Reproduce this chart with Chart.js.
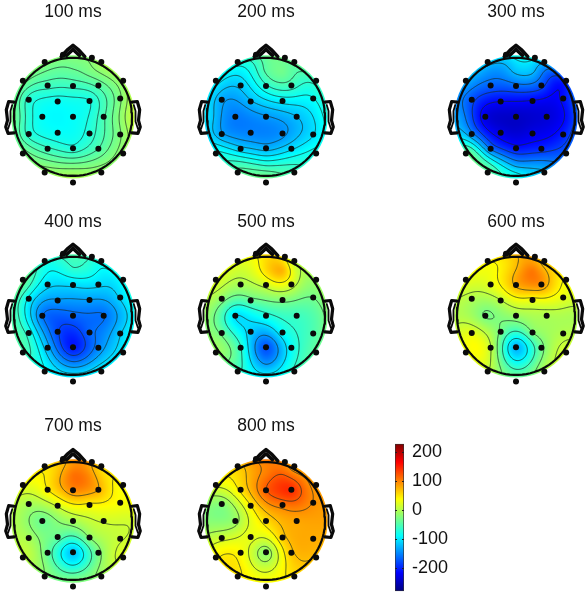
<!DOCTYPE html>
<html>
<head>
<meta charset="utf-8">
<title>ERP scalp maps</title>
<script src="https://cdn.jsdelivr.net/npm/chart.js@4"></script>
<style>
html,body{margin:0;padding:0;background:#fff;overflow:hidden}
#stage{position:relative;width:588px;height:610px;filter:blur(.35px)}
canvas{position:absolute;display:block}
</style>
</head>
<body>
<div id="stage"></div>
<script>
// ---- data ----------------------------------------------------------------
const panelTitles = ['100 ms','200 ms','300 ms','400 ms','500 ms','600 ms','700 ms','800 ms'];
const colorTicks = [200,100,0,-100,-200];
const colorMin = -280, colorMax = 230;

// Sites in head coordinates: first 28 are the drawn electrodes, the rest are extra read-off sites.
const siteX = [-.48,.48,-.17,.32, -.85,-.43,0,.43,.85, -.75,-.26,.28,.80, -.52,0,.52, -.75,-.26,.28,.80, -.85,-.43,0,.43,.85, -.48,.48,0, 0,.28,-1,1,0];
const siteY = [.93,.93,1.05,1.0, .61,.53,.52,.53,.61, .29,.26,.27,.31, 0,0,0, -.29,-.27,-.28,-.30, -.62,-.54,-.53,-.54,-.62, -.94,-.94,-1.11, .8,.78,0,0,-.82];
const electrodeCount = 28;

const v100 = [-20,0,-20,-20, -28,-55,-58,-45,-8, -72,-85,-80,-25, -85,-85,-50, -72,-85,-70,-25, -25,-60,-75,-50,-12, -12,-12,5, -35,-25,-30,10,-30];
const v200 = [-75,-40,-50,-35, -90,-115,-70,-55,-60, -135,-120,-95,-85, -155,-140,-120, -140,-150,-145,-105, -75,-115,-130,-105,-75, -40,-55,-25, -40,-25,-100,-80,-70];
const v300 = [-115,-130,-100,-90, -125,-165,-165,-170,-200, -180,-215,-220,-205, -235,-245,-235, -155,-225,-225,-200, -20,-170,-210,-200,-170, -35,-120,-70, -110,-110,-130,-185,-140];
const v400 = [-75,-80,-55,-65, -25,-105,-110,-105,-85, -95,-135,-135,-105, -165,-165,-165, -70,-180,-160,-110, -50,-125,-215,-150,-95, -85,-90,-85, -60,-70,-50,-100,-150];
const v500 = [25,0,40,40, 25,-5,10,20,-10, -15,-35,-25,-30, -115,-75,-60, -35,-110,-80,-50, -10,-60,-190,-85,-40, -60,-60,-80, 60,95,-15,-30,-145];
const v600 = [40,55,60,80, 30,30,85,100,35, 0,5,25,30, -35,-10,-5, 30,-25,-15,0, 30,15,-145,-35,20, 10,0,-30, 70,115,0,-5,-80];
const v700 = [50,50,70,80, 30,50,100,85,35, -5,15,35,40, -40,-5,15, -5,-30,-10,10, 10,-40,-135,-30,25, -20,-10,-15, 115,100,0,15,-70];
const v800 = [60,75,100,100, 30,55,125,155,85, -25,45,100,95, -15,55,80, 15,35,70,80, 45,40,-30,70,70, 50,55,40, 100,125,-20,85,15];
const panelValues = [v100,v200,v300,v400,v500,v600,v700,v800];

// Head outline shapes in head coordinates
const noseOuterX = [-.2,-.1,0,.1,.2], noseOuterY = [1.02,1.13,1.21,1.13,1.02];
const noseInnerX = [-.11,0,.11], noseInnerY = [1.04,1.14,1.04];
const earX = [1.0,1.09,1.13,1.11,1.14,1.1,1.0], earY = [.25,.26,.12,-.06,-.17,-.28,-.27];
const earInnerX = [1.03,1.06,1.06,1.1], earInnerY = [.2,.1,-.08,-.2];

// ---- layout --------------------------------------------------------------
const panelCenterX = [72.7,266.3,516,72.7,266.3,516,72.7,266.3];
const panelCenterY = [116.7,116.7,116.7,315.7,315.7,315.7,521,521];
const panelTitleY  = [12,12,12,222,222,222,426,426];
const UNIT = 59, HALF_W = 71, HALF_H = 80, TITLE_FONT = 17.5;
const CONTOURS = 6, FIELD_R = 1.045, GRID = 140, SMOOTH = 0.03;

// ---- colour --------------------------------------------------------------
const jetStops = [[0,0,0,128],[.125,0,0,255],[.375,0,255,255],[.625,255,255,0],[.875,255,0,0],[1,128,0,0]];
function jet(t){
  t = Math.max(0,Math.min(1,t));
  for(let i=1;i<jetStops.length;i++){
    const a=jetStops[i-1], b=jetStops[i];
    if(t<=b[0]){const f=(t-a[0])/(b[0]-a[0]);return [a[1]+f*(b[1]-a[1]),a[2]+f*(b[2]-a[2]),a[3]+f*(b[3]-a[3])];}
  }
  return [128,0,0];
}

// ---- surface: smoothed biharmonic spline through the read-off site values
function green(r){return r>1e-9 ? r*r*(Math.log(r)-1) : 0;}
function solve(A,b){
  const n=b.length;
  for(let i=0;i<n;i++){
    let p=i;for(let k=i+1;k<n;k++) if(Math.abs(A[k][i])>Math.abs(A[p][i])) p=k;
    [A[i],A[p]]=[A[p],A[i]];[b[i],b[p]]=[b[p],b[i]];
    for(let k=i+1;k<n;k++){const f=A[k][i]/A[i][i];for(let j=i;j<n;j++)A[k][j]-=f*A[i][j];b[k]-=f*b[i];}
  }
  const x=new Array(n).fill(0);
  for(let i=n-1;i>=0;i--){let s=b[i];for(let j=i+1;j<n;j++)s-=A[i][j]*x[j];x[i]=s/A[i][i];}
  return x;
}
function buildField(values){
  const n=values.length;
  const A=[];for(let i=0;i<n;i++){A.push([]);for(let j=0;j<n;j++)A[i].push(green(Math.hypot(siteX[i]-siteX[j],siteY[i]-siteY[j]))+(i===j?SMOOTH:0));}
  const w=solve(A,values.slice());
  const N=GRID+1, z=new Float64Array(N*N);
  let lo=Infinity,hi=-Infinity;
  for(let r=0;r<N;r++){
    const y=FIELD_R-2*FIELD_R*r/GRID;
    for(let c=0;c<N;c++){
      const x=-FIELD_R+2*FIELD_R*c/GRID;
      let s=0;for(let k=0;k<n;k++)s+=w[k]*green(Math.hypot(x-siteX[k],y-siteY[k]));
      z[r*N+c]=s;
      if(Math.hypot(x,y)<=1){lo=Math.min(lo,s);hi=Math.max(hi,s);}
    }
  }
  const levels=[];for(let i=1;i<=CONTOURS;i++)levels.push(lo+(hi-lo)*i/(CONTOURS+1));
  const off=document.createElement('canvas');off.width=N;off.height=N;
  const oc=off.getContext('2d'),img=oc.createImageData(N,N);
  for(let i=0;i<z.length;i++){
    const col=jet((z[i]-colorMin)/(colorMax-colorMin));
    img.data[i*4]=col[0];img.data[i*4+1]=col[1];img.data[i*4+2]=col[2];img.data[i*4+3]=255;
  }
  oc.putImageData(img,0,0);
  return {z,N,levels,off};
}
const surfacePlugin={
  id:'surface',
  beforeDatasetsDraw(chart,args,opts){
    const f=opts.field;if(!f)return;
    const {x:xs,y:ys}=chart.scales,ctx=chart.ctx;
    const px=v=>xs.getPixelForValue(v),py=v=>ys.getPixelForValue(v);
    ctx.save();
    ctx.beginPath();
    ctx.arc(px(0),py(0),Math.abs(px(FIELD_R)-px(0)),0,Math.PI*2);
    ctx.clip();
    ctx.imageSmoothingEnabled=true;
    ctx.drawImage(f.off,px(-FIELD_R),py(FIELD_R),px(FIELD_R)-px(-FIELD_R),py(-FIELD_R)-py(FIELD_R));
    ctx.restore();
    // contour lines
    ctx.save();
    ctx.beginPath();ctx.arc(px(0),py(0),Math.abs(px(1)-px(0)),0,Math.PI*2);ctx.clip();
    ctx.strokeStyle='rgba(25,45,40,0.72)';ctx.lineWidth=1;
    const N=f.N,st=2*FIELD_R/GRID,gx=c=>-FIELD_R+c*st,gy=r=>FIELD_R-r*st;
    ctx.beginPath();
    for(const L of f.levels){
      for(let r=0;r<N-1;r++)for(let c=0;c<N-1;c++){
        const a=f.z[r*N+c],b=f.z[r*N+c+1],d=f.z[(r+1)*N+c+1],e=f.z[(r+1)*N+c];
        const pts=[];
        if((a<L)!==(b<L))pts.push([gx(c+(L-a)/(b-a)),gy(r)]);
        if((b<L)!==(d<L))pts.push([gx(c+1),gy(r+(L-b)/(d-b))]);
        if((e<L)!==(d<L))pts.push([gx(c+(L-e)/(d-e)),gy(r+1)]);
        if((a<L)!==(e<L))pts.push([gx(c),gy(r+(L-a)/(e-a))]);
        for(let i=0;i+1<pts.length;i+=2){
          ctx.moveTo(px(pts[i][0]),py(pts[i][1]));
          ctx.lineTo(px(pts[i+1][0]),py(pts[i+1][1]));
        }
      }
    }
    ctx.stroke();
    ctx.restore();
  }
};

// ---- charts --------------------------------------------------------------
const stage=document.getElementById('stage');
function addCanvas(left,top,w,h){
  const c=document.createElement('canvas');
  c.width=w;c.height=h;c.style.left=left+'px';c.style.top=top+'px';c.style.width=w+'px';c.style.height=h+'px';
  stage.appendChild(c);return c;
}
function pairs(xs,ys,sign){return xs.map((x,i)=>({x:x*(sign||1),y:ys[i]}));}
function ringPoints(){const p=[];for(let d=0;d<=360;d+=4){const a=d*Math.PI/180;p.push({x:Math.cos(a),y:Math.sin(a)});}return p;}
function outline(data,w){return {type:'scatter',data,showLine:true,borderColor:'#0a0a0a',borderWidth:w,pointRadius:0,fill:false,tension:0,order:2,borderJoinStyle:'round',borderCapStyle:'round'};}

panelTitles.forEach((title,i)=>{
  const cx=panelCenterX[i],cy=panelCenterY[i],ty=panelTitleY[i];
  const top=Math.max(0,Math.round(ty-12));
  const areaTop=cy-HALF_H;
  const titleH=TITLE_FONT*1.2+2;
  const left=cx-HALF_W;
  const c=addCanvas(left,top,HALF_W*2,Math.round(areaTop-top+HALF_H*2));
  const eX=siteX.slice(0,electrodeCount),eY=siteY.slice(0,electrodeCount);
  new Chart(c,{
    type:'scatter',
    data:{datasets:[
      {data:pairs(eX,eY),backgroundColor:'#0a0a0a',borderWidth:0,pointRadius:3,order:1},
      outline(ringPoints(),2.2),
      outline(pairs(noseOuterX,noseOuterY),3.5),
      outline(pairs(noseInnerX,noseInnerY),3.5),
      outline(pairs(earX,earY),3.2),
      outline(pairs(earX,earY,-1),3.2),
      outline(pairs(earInnerX,earInnerY),1.8),
      outline(pairs(earInnerX,earInnerY,-1),1.8)
    ]},
    options:{
      responsive:false,animation:false,events:[],
      layout:{padding:0,autoPadding:false},
      scales:{
        x:{type:'linear',display:false,min:-HALF_W/UNIT,max:HALF_W/UNIT},
        y:{type:'linear',display:false,min:-HALF_H/UNIT,max:HALF_H/UNIT}
      },
      plugins:{
        legend:{display:false},tooltip:{enabled:false},
        title:{display:true,text:title,color:'#111',align:'center',
          font:{family:'"Liberation Sans",Arial,sans-serif',size:TITLE_FONT,weight:'normal',lineHeight:1.2},
          padding:{top:2,bottom:Math.max(0,areaTop-top-titleH)}},
        surface:{field:buildField(panelValues[i])}
      }
    },
    plugins:[surfacePlugin]
  });
});

// colour bar
const barCanvas=addCanvas(380,425,90,185);
new Chart(barCanvas,{
  type:'bar',
  data:{labels:[''],datasets:[{
    data:[[colorMin,colorMax]],
    barPercentage:1,categoryPercentage:1,borderWidth:1,borderColor:'#333',borderSkipped:false,
    backgroundColor(ctx){
      const ch=ctx.chart;if(!ch.chartArea)return '#888';
      const g=ch.ctx.createLinearGradient(0,ch.chartArea.bottom,0,ch.chartArea.top);
      jetStops.forEach(s=>g.addColorStop(s[0],`rgb(${s[1]},${s[2]},${s[3]})`));
      return g;
    }
  }]},
  options:{
    responsive:false,animation:false,events:[],
    layout:{padding:{left:15,top:11,bottom:3,right:0},autoPadding:false},
    scales:{
      x:{display:false,grid:{display:false}},
      y:{position:'right',min:colorMin,max:colorMax,
        afterBuildTicks(s){s.ticks=colorTicks.map(v=>({value:v}));},
        afterFit(s){s.width=66;},
        grid:{color:'#222',lineWidth:1,drawTicks:false,z:1},
        border:{display:false,dash:[2,5,2]},
        ticks:{color:'#111',padding:8,autoSkip:false,font:{family:'"Liberation Sans",Arial,sans-serif',size:18},callback:v=>String(v)}
      }
    },
    plugins:{legend:{display:false},tooltip:{enabled:false},title:{display:false}}
  }
});
</script>
</body>
</html>
